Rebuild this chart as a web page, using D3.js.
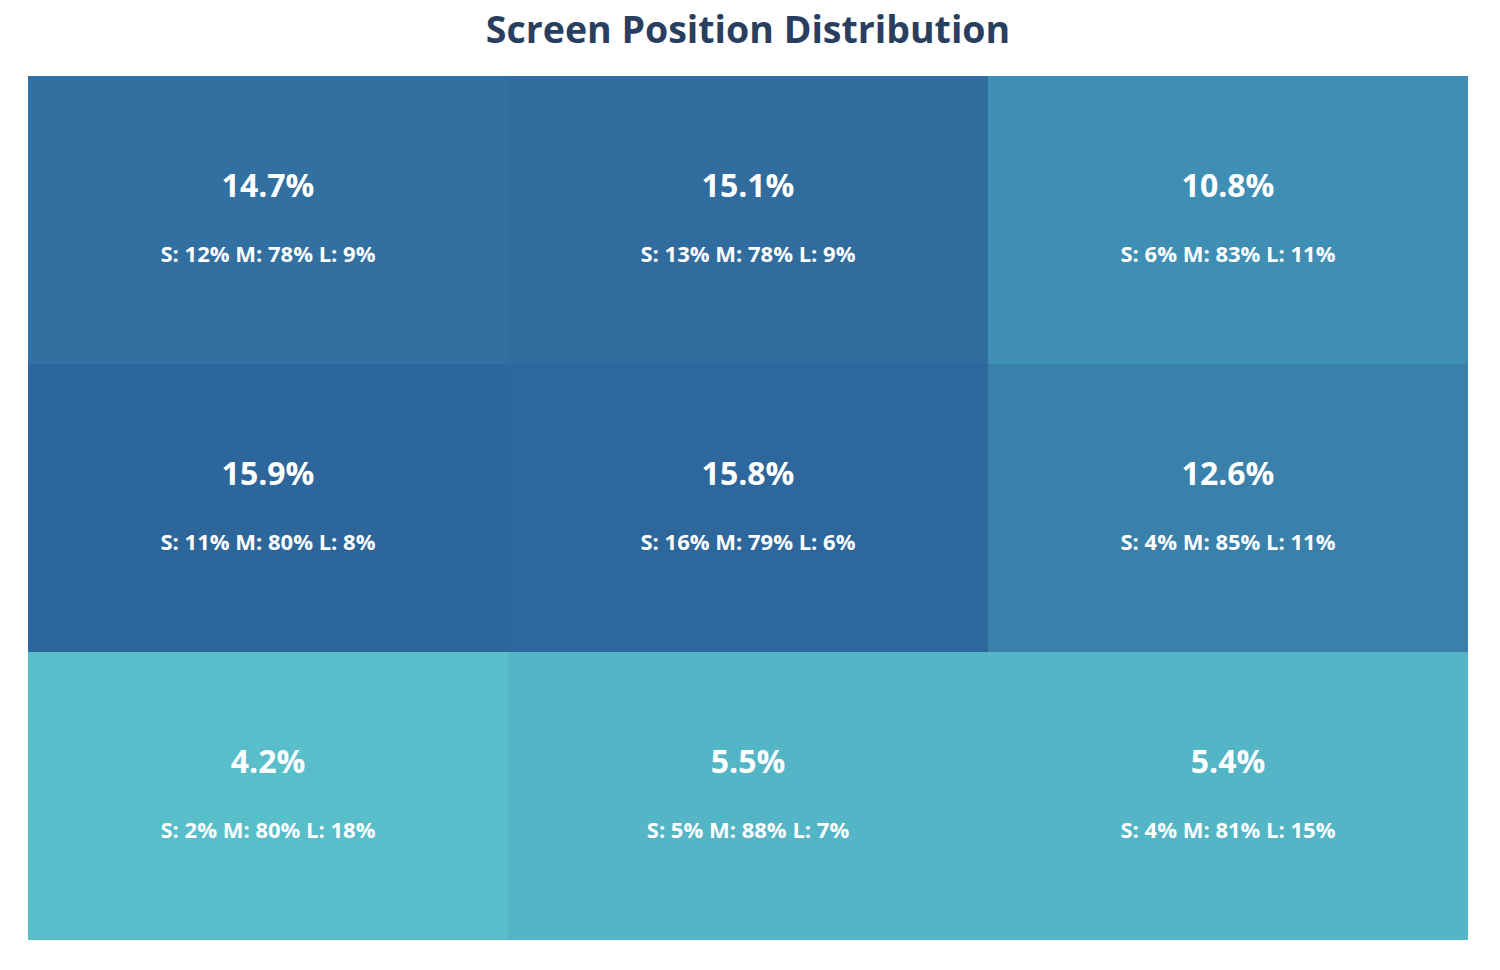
<!DOCTYPE html>
<html>
<head>
<meta charset="utf-8">
<script src="https://cdn.jsdelivr.net/npm/d3@7"></script>
<style>
  html, body { margin: 0; padding: 0; background: #fff; }
  svg { display: block; font-family: "Open Sans", sans-serif; }
</style>
</head>
<body>
<svg id="chart" width="1500" height="970"></svg>
<script>
const rows = ["Top", "Middle", "Bottom"];
const cols = ["Left", "Center", "Right"];
// share of all positions (%) by row, then column
const shares = [
  [14.7, 15.1, 10.8],
  [15.9, 15.8, 12.6],
  [4.2, 5.5, 5.4]
];
const smallPct = [
  [12, 13, 6],
  [11, 16, 4],
  [2, 5, 4]
];
const mediumPct = [
  [78, 78, 83],
  [80, 79, 85],
  [80, 88, 81]
];
const largePct = [
  [9, 9, 11],
  [8, 6, 11],
  [18, 7, 15]
];
const title = "Screen Position Distribution";

const cells = [];
rows.forEach((r, i) => cols.forEach((c, j) => cells.push({
  row: r, col: c, v: shares[i][j],
  s: smallPct[i][j], m: mediumPct[i][j], l: largePct[i][j]
})));

const svg = d3.select("#chart");
const x = d3.scaleBand().domain(cols).range([28, 1468]);
const y = d3.scaleBand().domain(rows).range([76, 940]);
const color = d3.scaleLinear()
  .domain([4.2, 10.8, 15.9])
  .range(["#58bec9", "#3f8fb5", "#2d669a"])
  .interpolate(d3.interpolateRgb);

svg.append("text")
  .attr("x", 748).attr("y", 28.5)
  .attr("text-anchor", "middle").attr("dominant-baseline", "central")
  .attr("font-size", 37.5).attr("font-weight", 700)
  .attr("fill", "#2a3f5f")
  .text(title);

const g = svg.append("g").selectAll("g").data(cells).join("g");
g.append("rect")
  .attr("x", d => x(d.col)).attr("y", d => y(d.row))
  .attr("width", x.bandwidth()).attr("height", y.bandwidth())
  .attr("fill", d => color(d.v));
g.append("text")
  .attr("x", d => x(d.col) + x.bandwidth() / 2)
  .attr("y", d => y(d.row) + y.bandwidth() / 2 - 35.5)
  .attr("text-anchor", "middle").attr("dominant-baseline", "central")
  .attr("font-size", 32).attr("font-weight", 700).attr("fill", "#fff")
  .text(d => d.v.toFixed(1) + "%");
g.append("text")
  .attr("x", d => x(d.col) + x.bandwidth() / 2)
  .attr("y", d => y(d.row) + y.bandwidth() / 2 + 33)
  .attr("text-anchor", "middle").attr("dominant-baseline", "central")
  .attr("font-size", 22).attr("font-weight", 700).attr("fill", "#fff")
  .text(d => `S: ${d.s}% M: ${d.m}% L: ${d.l}%`);
</script>
</body>
</html>
